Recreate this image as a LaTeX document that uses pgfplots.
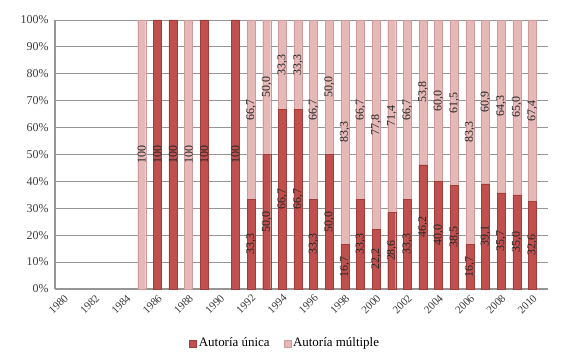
\documentclass[border=0pt]{standalone}
\usepackage{pgfplots}
\usepackage{pgfplotstable}
\usepackage{fontspec}
\setmainfont{Liberation Serif}
\pgfplotsset{compat=1.18}
\definecolor{unica}{RGB}{192,80,77}
\definecolor{unicaedge}{RGB}{160,60,58}
\definecolor{multiple}{RGB}{230,185,184}
\definecolor{multipleedge}{RGB}{205,155,154}
\definecolor{gridgray}{RGB}{150,150,150}
\definecolor{labgray}{RGB}{60,60,60}

\pgfplotstableread{
year u m lu lm
1980 0 0 {} {}
1981 0 0 {} {}
1982 0 0 {} {}
1983 0 0 {} {}
1984 0 0 {} {}
1985 0 100 {} 100
1986 100 0 100 {}
1987 100 0 100 {}
1988 0 100 {} 100
1989 100 0 100 {}
1990 0 0 {} {}
1991 100 0 100 {}
1992 33.3 66.7 33,3 66,7
1993 50.0 50.0 50,0 50,0
1994 66.7 33.3 66,7 33,3
1995 66.7 33.3 66,7 33,3
1996 33.3 66.7 33,3 66,7
1997 50.0 50.0 50,0 50,0
1998 16.7 83.3 16,7 83,3
1999 33.3 66.7 33,3 66,7
2000 22.2 77.8 22,2 77,8
2001 28.6 71.4 28,6 71,4
2002 33.3 66.7 33,3 66,7
2003 46.2 53.8 46,2 53,8
2004 40.0 60.0 40,0 60,0
2005 38.5 61.5 38,5 61,5
2006 16.7 83.3 16,7 83,3
2007 39.1 60.9 39,1 60,9
2008 35.7 64.3 35,7 64,3
2009 35.0 65.0 35,0 65,0
2010 32.6 67.4 32,6 67,4
}\datatable

\begin{document}
\begin{tikzpicture}
\begin{axis}[
  name=ax,
  scale only axis,
  width=493bp, height=269bp,
  xmin=1979.45, xmax=2011, ymin=0, ymax=100,
  ybar stacked, bar width=8bp,
  axis x line*=bottom, axis y line*=left,
  axis line style={gridgray, line width=1.2pt},
  ymajorgrids, grid style={gridgray, line width=0.9pt},
  ytick={0,10,...,100},
  yticklabel={\pgfmathprintnumber{\tick}\%},
  xtick={1980,1982,...,2010},
  major tick length=0pt,
  /pgf/number format/assume math mode=true,
  yticklabel style={font=\fontsize{12}{13}\selectfont, color=labgray, xshift=-3bp},
  xticklabel style={rotate=45, anchor=north east, font=\fontsize{11}{12}\selectfont, color=labgray, /pgf/number format/1000 sep={}},
  legend style={at={(0.467,-0.165)}, anchor=north, legend columns=2, draw=none, font=\fontsize{13}{14}\selectfont, /tikz/every even column/.append style={column sep=12bp}},
  legend image code/.code={\fill[#1] (0bp,-4bp) rectangle (7bp,3bp);},
  nodes near coords,
  point meta=explicit symbolic,
  nodes near coords align={center},
  nodes near coords style={rotate=90, anchor=center, font=\fontsize{12}{13}\selectfont, color=black!85},
]
\addplot[fill=unica, draw=unicaedge, line width=0.4pt]
  table[x=year, y=u, meta=lu] {\datatable};
\addlegendentry{Autoría única}
\addplot[fill=multiple, draw=multipleedge, line width=0.4pt]
  table[x=year, y=m, meta=lm] {\datatable};
\addlegendentry{Autoría múltiple}
\end{axis}
\pgfresetboundingbox
\path ([shift={(-55bp,-73bp)}]ax.south west) rectangle ([shift={(16bp,20bp)}]ax.north east);
\end{tikzpicture}
\end{document}
